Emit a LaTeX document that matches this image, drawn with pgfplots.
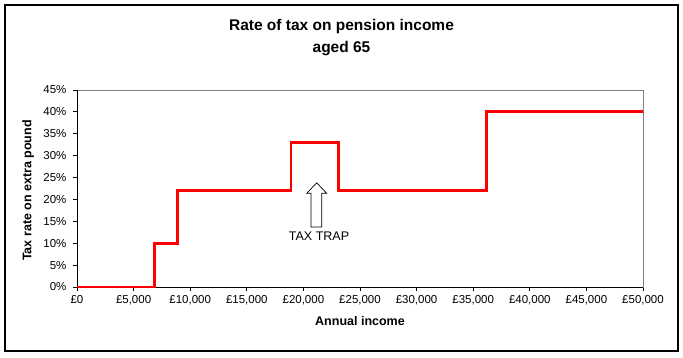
\documentclass[border=0pt]{standalone}
\usepackage{fontspec}
\setmainfont{Liberation Sans}
\usepackage{pgfplots}
\pgfplotsset{compat=1.18}
\begin{document}
\begin{tikzpicture}
\path[use as bounding box] (0,0) rectangle (683pt,357pt);
\draw[line width=1.2pt] (5pt,6pt) rectangle (678pt,352pt);
\node[font=\fontsize{15.5}{18}\selectfont\bfseries, anchor=base, inner sep=0pt] at (341.5pt,326pt) {Rate of tax on pension income};
\node[font=\fontsize{15.5}{18}\selectfont\bfseries, anchor=base, inner sep=0pt] at (341.5pt,304pt) {aged 65};
\begin{axis}[
  at={(77pt,70pt)}, anchor=south west, scale only axis,
  width=566pt, height=197pt,
  xmin=0, xmax=50000, ymin=0, ymax=45,
  xtick={0,5000,10000,15000,20000,25000,30000,35000,40000,45000,50000},
  ytick={0,5,10,15,20,25,30,35,40,45},
  tick align=outside, major tick length=4pt,
  xtick pos=bottom, ytick pos=left,
  axis line style={draw=black!50, line width=0.8pt},
  tick style={black, line width=0.8pt},
  scaled x ticks=false,
  xticklabel={£\pgfmathprintnumber[fixed,precision=0,1000 sep={,},assume math mode=true]{\tick}},
  yticklabel={\pgfmathprintnumber[fixed,precision=0,assume math mode=true]{\tick}\%},
  ticklabel style={font=\fontsize{11.5}{13}\selectfont},
  yticklabel style={xshift=-3pt},
  xticklabel style={yshift=-1pt},
  xlabel={Annual income},
  ylabel={Tax rate on extra pound},
  label style={font=\fontsize{12.5}{14}\selectfont\bfseries},
  xlabel style={at={(axis description cs:0.5,-0.193)}, anchor=base, inner sep=0pt},
  ylabel style={at={(axis description cs:-0.0804,0.49)}, anchor=base, inner sep=0pt},
  clip=false,
]
\draw[black, line width=0.8pt] (rel axis cs:0,1) -- (rel axis cs:0,0) -- (rel axis cs:1,0);
\addplot[const plot, color=red, line width=2.8pt] coordinates {
  (0,0) (6830,10) (8850,22) (18900,33) (23070,22) (36145,40) (50000,40)
};
\draw[black, fill=white, line width=0.7pt]
  (axis cs:20671,13.7) -- (axis cs:20671,21.4) -- (axis cs:20292,21.4) --
  (axis cs:21175,23.8) -- (axis cs:22058,21.4) -- (axis cs:21616,21.4) --
  (axis cs:21616,13.7) -- cycle;
\node[font=\fontsize{12.5}{14}\selectfont, anchor=base, inner sep=0pt] at (axis cs:21378,10.58) {TAX TRAP};
\end{axis}
\end{tikzpicture}
\end{document}
